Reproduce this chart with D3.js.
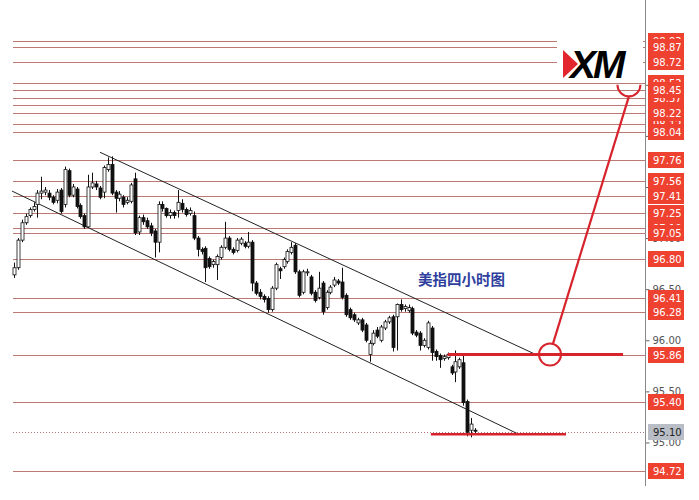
<!DOCTYPE html>
<html><head><meta charset="utf-8">
<script src="https://cdn.jsdelivr.net/npm/d3@7"></script>
<style>html,body{margin:0;padding:0;background:#fff;overflow:hidden}</style>
</head><body><svg id="c" width="699" height="500"></svg>
<script>
// ---- data (USD index, 4-hour candles) ----
const opens  = [96.64,96.71,96.98,97.15,97.22,97.28,97.33,97.44,97.45,97.44,97.40,97.37,97.47,97.33,97.66,97.42,97.48,97.32,97.22,97.11,
97.50,97.53,97.49,97.45,97.67,97.72,97.45,97.39,97.40,97.35,97.36,97.58,97.06,97.20,97.17,97.12,97.07,96.96,97.33,97.29,
97.22,97.25,97.27,97.34,97.28,97.24,97.22,97.00,96.89,96.90,96.80,96.74,96.74,96.81,96.91,97.00,96.89,96.88,96.95,96.95,
96.92,96.96,96.56,96.47,96.43,96.41,96.30,96.51,96.70,96.72,96.77,96.86,96.93,96.67,96.47,96.66,96.62,96.47,96.42,96.56,
96.32,96.47,96.54,96.58,96.57,96.44,96.30,96.25,96.17,96.20,96.15,95.86,95.97,96.10,96.00,96.12,96.18,96.23,96.23,96.35,
96.31,96.29,96.31,96.08,96.07,95.95,95.93,96.12,95.89,95.85,95.82,95.83,95.74,95.69,95.74,95.78,95.40,95.12,95.12];
const highs  = [96.76,97.00,97.18,97.24,97.30,97.35,97.47,97.60,97.50,97.47,97.42,97.48,97.49,97.70,97.68,97.53,97.50,97.34,97.24,97.62,
97.64,97.56,97.51,97.71,97.79,97.80,97.47,97.46,97.42,97.40,97.54,97.64,97.22,97.23,97.20,97.15,97.09,97.36,97.36,97.30,
97.28,97.27,97.47,97.38,97.30,97.30,97.26,97.02,96.91,96.92,96.82,96.79,96.84,96.93,97.16,97.02,96.91,97.00,97.01,96.97,
97.06,96.98,96.58,96.50,96.45,96.43,96.53,96.76,96.72,96.81,96.89,96.96,96.95,96.69,96.69,96.70,96.64,96.49,96.67,96.58,
96.49,96.54,96.62,96.60,96.71,96.46,96.32,96.27,96.22,96.22,96.17,96.00,96.10,96.13,96.15,96.20,96.24,96.25,96.36,96.40,
96.35,96.35,96.33,96.10,96.09,96.02,96.19,96.14,95.91,95.87,95.86,95.88,95.76,95.90,95.83,95.86,95.42,95.24,95.14];
const lows   = [96.61,96.69,96.96,97.13,97.20,97.26,97.20,97.38,97.42,97.37,97.33,97.34,97.24,97.30,97.40,97.40,97.29,97.19,97.09,97.10,
97.48,97.47,97.38,97.39,97.65,97.42,97.25,97.36,97.30,97.33,97.34,97.03,97.03,97.13,97.09,97.02,96.81,96.86,97.26,97.20,
97.19,97.19,97.20,97.25,97.21,97.22,96.98,96.82,96.84,96.57,96.70,96.71,96.59,96.79,96.89,96.87,96.84,96.86,96.93,96.90,
96.90,96.48,96.44,96.40,96.37,96.27,96.28,96.49,96.60,96.70,96.75,96.84,96.65,96.42,96.45,96.63,96.44,96.37,96.40,96.25,
96.30,96.45,96.52,96.54,96.40,96.23,96.20,96.18,96.15,96.08,95.98,95.79,95.95,96.02,95.98,96.10,96.16,95.89,95.90,96.28,
96.28,96.27,96.05,96.03,95.90,95.93,95.91,95.80,95.80,95.73,95.80,95.81,95.66,95.59,95.72,95.36,95.06,95.05,95.09];
const closes = [96.71,96.98,97.15,97.21,97.28,97.31,97.44,97.46,97.47,97.40,97.35,97.45,97.26,97.67,97.42,97.50,97.31,97.21,97.11,97.50,
97.54,97.50,97.40,97.69,97.72,97.44,97.39,97.43,97.33,97.37,97.52,97.05,97.20,97.16,97.11,97.05,96.96,97.33,97.29,97.22,
97.25,97.22,97.35,97.28,97.23,97.27,97.00,96.89,96.87,96.71,96.72,96.77,96.82,96.91,97.00,96.89,96.86,96.98,96.99,96.92,
96.96,96.56,96.46,96.43,96.40,96.30,96.51,96.74,96.68,96.79,96.87,96.91,96.67,96.44,96.67,96.67,96.46,96.39,96.51,96.28,
96.47,96.52,96.59,96.56,96.42,96.25,96.22,96.20,96.20,96.10,96.00,95.97,96.07,96.04,96.13,96.18,96.22,95.93,96.35,96.30,
96.33,96.32,96.07,96.05,95.95,96.00,96.17,95.88,95.84,95.81,95.84,95.86,95.68,95.79,95.81,95.39,95.10,95.18,95.11];

// horizontal level lines (drawing order); labelled ones get a red price tag
const levels = [98.93,98.87,98.52,98.37,98.45,98.30,98.12,98.22,98.72,98.04,97.76,97.56,97.41,97.25,97.10,97.05,96.80,96.41,96.28,95.86,95.40,94.72];
const labelledLevels = [98.93,98.87,98.52,98.37,98.45,98.12,98.22,98.72,98.04,97.76,97.56,97.41,97.25,97.10,97.05,96.80,96.41,96.28,95.86,95.40,94.72];
const tickValues = [98.50,98.00,97.50,97.00,96.50,96.00,95.50,95.00];
const currentPrice = 95.10;
const titleText = "美指四小时图";
const logoText = "XM";
// channel lines: [candle index, price]
const upperChannel = [[22.0, 97.84],[133.6, 95.86]];
const lowerChannel = [[-0.5, 97.46],[129.2, 95.08]];
// red annotations
const resistanceSeg = {price: 95.86, from: 111.0, to: 155.9};
const supportSeg = {price: 95.10, from: 106.7, to: 141.3};
const breakPoint = [137.2, 95.86];
const targetPoint = [157.4, 98.50];

// ---- drawing ----
const svg = d3.select("#c");
const x = d3.scaleLinear().domain([0, opens.length - 1]).range([14, 475]);
const y = d3.scaleLinear().domain([94.437, 99.330]).range([500, 0]);
const AX = 645, LX0 = 13;
const crisp = v => Math.round(v) + 0.5;

const lineColor = "#b0625c";
const red = "#d7232b";
const labelRed = "#ee4130";

// level lines
svg.append("g").selectAll("line").data(levels).join("line")
  .attr("x1", LX0).attr("x2", AX)
  .attr("y1", d => crisp(y(d))).attr("y2", d => crisp(y(d)))
  .attr("stroke", lineColor).attr("stroke-width", 1).attr("opacity", 0.85);

// current price dotted line
svg.append("line").attr("x1", LX0).attr("x2", AX)
  .attr("y1", crisp(y(currentPrice))).attr("y2", crisp(y(currentPrice)))
  .attr("stroke", "#b07878").attr("stroke-dasharray", "1,2");

// channel lines
const lineGen = d3.line().x(d => x(d[0])).y(d => y(d[1]));
[upperChannel, lowerChannel].forEach(c => {
  svg.append("path").attr("d", lineGen(c)).attr("fill", "none")
    .attr("stroke", "#222").attr("stroke-width", 1);
});

// candles
const idx = d3.range(opens.length);
const cg = svg.append("g");
cg.selectAll("line").data(idx).join("line")
  .attr("x1", i => Math.round(x(i)) + 0.5).attr("x2", i => Math.round(x(i)) + 0.5)
  .attr("y1", i => y(highs[i])).attr("y2", i => y(lows[i]))
  .attr("stroke", "#111").attr("stroke-width", 1);
cg.selectAll("rect").data(idx).join("rect")
  .attr("x", i => Math.round(x(i)) - 1)
  .attr("width", 3)
  .attr("y", i => y(Math.max(opens[i], closes[i])))
  .attr("height", i => Math.max(1, Math.abs(y(opens[i]) - y(closes[i]))))
  .attr("fill", i => closes[i] >= opens[i] ? "#fff" : "#111")
  .attr("stroke", "#111").attr("stroke-width", 0.8);

// red annotations
svg.append("line")
  .attr("x1", x(resistanceSeg.from)).attr("x2", x(resistanceSeg.to))
  .attr("y1", y(resistanceSeg.price)).attr("y2", y(resistanceSeg.price))
  .attr("stroke", red).attr("stroke-width", 3);
svg.append("line")
  .attr("x1", x(supportSeg.from)).attr("x2", x(supportSeg.to))
  .attr("y1", y(supportSeg.price) + 2).attr("y2", y(supportSeg.price) + 2)
  .attr("stroke", red).attr("stroke-width", 2.5);
const bx = x(breakPoint[0]), by = y(breakPoint[1]);
svg.append("circle").attr("cx", bx).attr("cy", by).attr("r", 11)
  .attr("fill", "none").attr("stroke", red).attr("stroke-width", 2);
const tx = x(targetPoint[0]), ty = y(targetPoint[1]);
svg.append("line").attr("x1", bx + 3).attr("y1", by - 11)
  .attr("x2", tx).attr("y2", ty + 11.5)
  .attr("stroke", red).attr("stroke-width", 2.2);

// logo
svg.append("rect").attr("x", 557).attr("y", 37).attr("width", 86).attr("height", 41).attr("fill", "#fff");
svg.append("path").attr("d", `M${tx - 11.5},${ty} A11.5,11.5 0 0 0 ${tx + 11.5},${ty}`)
  .attr("fill", "none").attr("stroke", red).attr("stroke-width", 2);
svg.append("polygon").attr("points", "563,50 578,64 563,78").attr("fill", "#e3262d");
svg.append("text").attr("x", 570).attr("y", 78)
  .attr("font-family", "Liberation Sans, Arial, sans-serif").attr("font-weight", "bold")
  .attr("font-style", "italic").attr("font-size", 39).attr("letter-spacing", -3)
  .attr("fill", "#000").text(logoText);

// title
svg.append("text").attr("x", 418).attr("y", 285)
  .attr("font-family", "Noto Sans CJK SC, sans-serif").attr("font-size", 14.5).attr("font-weight", 600)
  .attr("fill", "#2f3f9e").text(titleText);

// price axis
const axis = d3.axisRight(y).tickValues(tickValues).tickSize(4).tickFormat(d3.format(".2f"));
const ag = svg.append("g").attr("transform", `translate(${AX + 0.5},0)`).call(axis);
ag.select(".domain").remove();
ag.selectAll(".tick line").attr("stroke", "#666");
ag.selectAll(".tick text").attr("font-family", "DejaVu Sans, sans-serif").attr("font-size", 10).attr("fill", "#555").attr("x", 7);
svg.append("line").attr("x1", AX + 0.5).attr("x2", AX + 0.5).attr("y1", 0).attr("y2", 486)
  .attr("stroke", "#888").attr("stroke-width", 1);

// red price labels
const lg = svg.append("g");
labelledLevels.forEach(v => {
  const g = lg.append("g").attr("transform", `translate(${AX + 3},${Math.round(y(v))})`);
  g.append("rect").attr("x", 0).attr("y", -8).attr("width", 36).attr("height", 16).attr("fill", labelRed);
  g.append("text").attr("x", 5).attr("y", 4).attr("font-family", "DejaVu Sans, sans-serif")
    .attr("font-size", 10).attr("fill", "#fff").text(d3.format(".2f")(v));
});
// current price label
const cgp = svg.append("g").attr("transform", `translate(${AX + 3},${Math.round(y(currentPrice))})`);
cgp.append("rect").attr("x", 0).attr("y", -8).attr("width", 36).attr("height", 16).attr("fill", "#b9bec6");
cgp.append("text").attr("x", 5).attr("y", 4).attr("font-family", "DejaVu Sans, sans-serif")
  .attr("font-size", 10).attr("fill", "#222").text(d3.format(".2f")(currentPrice));
</script></body></html>
